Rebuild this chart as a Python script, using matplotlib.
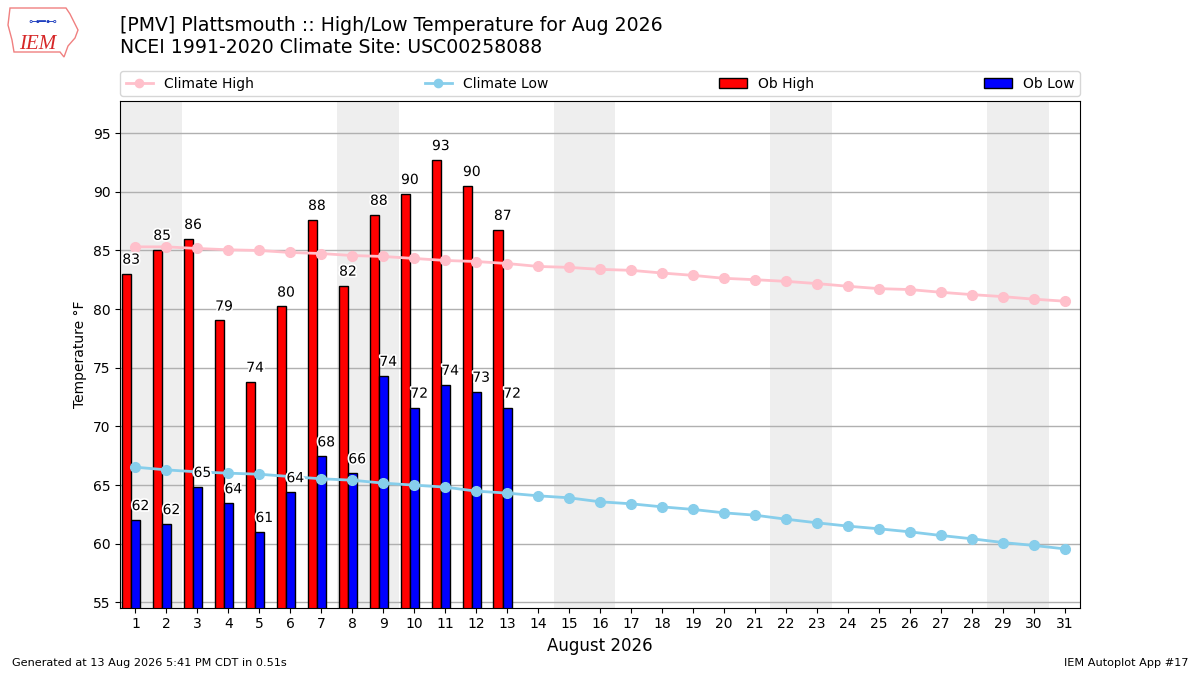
import numpy as np
import matplotlib
matplotlib.use("Agg")
import matplotlib.pyplot as plt
import matplotlib.patheffects as pe
from matplotlib.patches import Polygon

days = list(range(1, 32))
clim_high = [85.31, 85.31, 85.17, 85.06, 85.00, 84.83, 84.74, 84.57, 84.49, 84.32,
             84.15, 84.06, 83.89, 83.64, 83.56, 83.39, 83.31, 83.08, 82.88, 82.63,
             82.51, 82.37, 82.18, 81.95, 81.75, 81.67, 81.44, 81.24, 81.07, 80.85, 80.68]
clim_low = [66.53, 66.30, 66.13, 66.02, 65.93, 65.73, 65.54, 65.42, 65.17, 65.00,
            64.83, 64.49, 64.32, 64.09, 63.92, 63.58, 63.41, 63.15, 62.93, 62.64,
            62.44, 62.10, 61.79, 61.51, 61.28, 61.02, 60.71, 60.43, 60.11, 59.86, 59.57]
ob_days = list(range(1, 14))
ob_high = [83.03, 85.07, 86.00, 79.04, 73.81, 80.23, 87.62, 82.01, 88.05, 89.83,
           92.72, 90.51, 86.77]
ob_low = [62.03, 61.69, 64.86, 63.47, 61.02, 64.41, 67.46, 66.02, 74.32, 71.61,
          73.56, 72.97, 71.61]
ob_high_labels = ["83", "85", "86", "79", "74", "80", "88", "82", "88", "90",
                  "93", "90", "87"]
ob_low_labels = ["62", "62", "65", "64", "61", "64", "68", "66", "74", "72",
                 "74", "73", "72"]
weekend_starts = [1, 8, 15, 22, 29]

W, H = 1200, 675
fig = plt.figure(figsize=(12, 6.75), dpi=100)
ax = fig.add_axes([0.1, 0.1, 0.8, 0.75])

for s in weekend_starts:
    ax.axvspan(s - 0.5, s + 1.5, color="#eeeeee", zorder=0, lw=0)

od = np.array(ob_days)
bh = ax.bar(od - 0.44, ob_high, width=0.3, align="edge", color="r",
            edgecolor="k", lw=1, label="Ob High", zorder=2)
bl = ax.bar(od - 0.14, ob_low, width=0.3, align="edge", color="b",
            edgecolor="k", lw=1, label="Ob Low", zorder=2)

lh, = ax.plot(days, clim_high, "-o", color="pink", lw=2, ms=7,
              label="Climate High", zorder=3)
ll, = ax.plot(days, clim_low, "-o", color="skyblue", lw=2, ms=7,
              label="Climate Low", zorder=3)

stroke = [pe.withStroke(linewidth=2.5, foreground="white")]
for d, v, t in zip(ob_days, ob_high, ob_high_labels):
    ax.annotate(t, (d - 0.14, v), xytext=(0, 10), textcoords="offset points",
                ha="center", va="center", fontsize=10, zorder=5, path_effects=stroke)
for d, v, t in zip(ob_days, ob_low, ob_low_labels):
    ax.annotate(t, (d + 0.16, v), xytext=(0, 10), textcoords="offset points",
                ha="center", va="center", fontsize=10, zorder=5, path_effects=stroke)

allv = clim_high + clim_low + ob_high + ob_low
ax.set_ylim(min(allv) - 5, max(allv) + 5)
ax.set_xlim(0.5, 31.5)
ax.set_xticks(days)
ax.set_xticklabels([str(d) for d in days])
ax.grid(axis="y", color="#b0b0b0", lw=1)
ax.set_axisbelow(True)
ax.set_ylabel("Temperature °F", fontsize=10)
ax.set_xlabel("August 2026", fontsize=12)

ax.legend(handles=[lh, ll, bh, bl], loc="lower left", bbox_to_anchor=(0, 1.01, 1, 0.05),
          mode="expand", ncol=4, borderaxespad=0, fontsize=10, markerscale=0.85)

fig.text(0.1, 0.954, "[PMV] Plattsmouth :: High/Low Temperature for Aug 2026",
         fontsize=13.6, ha="left", va="baseline")
fig.text(0.1, 0.921, "NCEI 1991-2020 Climate Site: USC00258088",
         fontsize=13.6, ha="left", va="baseline")

fig.text(0.01, 0.01, "Generated at 13 Aug 2026 5:41 PM CDT in 0.51s", fontsize=8.1,
         ha="left", va="bottom")
fig.text(0.99, 0.01, "IEM Autoplot App #17", fontsize=8.1, ha="right", va="bottom")

# simple IEM logo mark (decorative)
outline_px = [(10, 8), (66, 8), (70, 14), (74, 22), (78, 30), (75, 38), (68, 46),
              (64, 57), (60, 52), (14, 52), (12, 40), (8, 25)]
outline = [(x / W, 1 - y / H) for x, y in outline_px]
fig.patches.append(Polygon(outline, closed=True, fill=False, edgecolor="#f08080",
                           lw=1, transform=fig.transFigure, figure=fig))
fig.text(0.031, 0.934, "IEM", fontsize=15, color="#d62728", family="Liberation Serif",
         style="italic", ha="center", va="center")
fig.text(0.036, 0.968, "⊶━⊷", fontsize=8, color="#1f3fbf", ha="center", va="center")

fig.savefig("out.png", dpi=100)
